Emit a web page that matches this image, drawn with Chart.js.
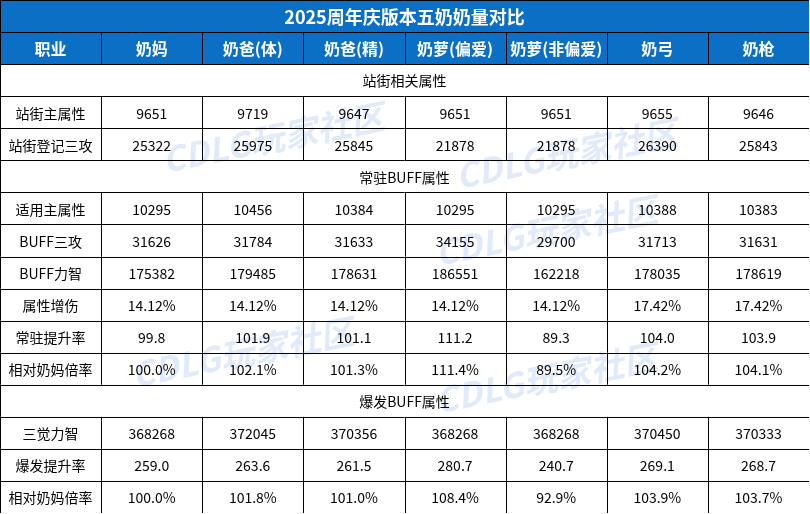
<!DOCTYPE html>
<html><head><meta charset="utf-8">
<script src="https://cdn.jsdelivr.net/npm/chart.js@4"></script>
<style>body{margin:0;background:#fff}canvas{display:block}</style>
</head><body><canvas id="c" width="809" height="513"></canvas>
<script>
const title = "2025周年庆版本五奶奶量对比";
const headers = ["职业","奶妈","奶爸(体)","奶爸(精)","奶萝(偏爱)","奶萝(非偏爱)","奶弓","奶枪"];
const section1 = "站街相关属性";
const rows1Labels = ["站街主属性","站街登记三攻"];
const rows1 = [
  ["9651","9719","9647","9651","9651","9655","9646"],
  ["25322","25975","25845","21878","21878","26390","25843"]];
const section2 = "常驻BUFF属性";
const rows2Labels = ["适用主属性","BUFF三攻","BUFF力智","属性增伤","常驻提升率","相对奶妈倍率"];
const rows2 = [
  ["10295","10456","10384","10295","10295","10388","10383"],
  ["31626","31784","31633","34155","29700","31713","31631"],
  ["175382","179485","178631","186551","162218","178035","178619"],
  ["14.12%","14.12%","14.12%","14.12%","14.12%","17.42%","17.42%"],
  ["99.8","101.9","101.1","111.2","89.3","104.0","103.9"],
  ["100.0%","102.1%","101.3%","111.4%","89.5%","104.2%","104.1%"]];
const section3 = "爆发BUFF属性";
const rows3Labels = ["三觉力智","爆发提升率","相对奶妈倍率"];
const rows3 = [
  ["368268","372045","370356","368268","368268","370450","370333"],
  ["259.0","263.6","261.5","280.7","240.7","269.1","268.7"],
  ["100.0%","101.8%","101.0%","108.4%","92.9%","103.9%","103.7%"]];

const rows = [{type:"title",text:title},{type:"header",cells:headers},{type:"section",text:section1}];
rows1Labels.forEach((l,i)=>rows.push({type:"data",cells:[l,...rows1[i]]}));
rows.push({type:"section",text:section2});
rows2Labels.forEach((l,i)=>rows.push({type:"data",cells:[l,...rows2[i]]}));
rows.push({type:"section",text:section3});
rows3Labels.forEach((l,i)=>rows.push({type:"data",cells:[l,...rows3[i]]}));
const nCols = headers.length, nRows = rows.length;
const BLUE = "#0B6FC6";
const FONT = '"Noto Sans CJK SC", sans-serif';

const tablePlugin = {
  id:"table",
  beforeDatasetsDraw(chart){
    const ctx = chart.ctx, xs = chart.scales.x, ys = chart.scales.y;
    const X = v=>xs.getPixelForValue(v), Y = v=>ys.getPixelForValue(v);
    ctx.save();
    rows.forEach((r,ri)=>{
      const y0=Y(ri), y1=Y(ri+1);
      if(r.type==="title"||r.type==="header"){
        ctx.fillStyle=BLUE; ctx.fillRect(X(0),y0,X(nCols)-X(0),y1-y0);
      }
    });
    ctx.save();
    ctx.fillStyle="rgba(120,160,230,0.22)";
    ctx.font='bold italic 34px '+FONT;
    ctx.textAlign="center";ctx.textBaseline="middle";
    [[X(2.7),Y(4.3)],[X(5.6),Y(4.8)],[X(2.4),Y(11)],[X(5.4),Y(11.8)],[X(5.4),Y(7.2)]].forEach(p=>{
      ctx.save();ctx.translate(p[0],p[1]);ctx.rotate(-0.2);ctx.fillText("CDLG玩家社区",0,0);ctx.restore();
    });
    ctx.restore();
    ctx.strokeStyle="#000";ctx.lineWidth=1;
    for(let ri=0;ri<=nRows;ri++){
      const y=Math.round(Y(ri))+0.5; ctx.beginPath();ctx.moveTo(X(0),y);ctx.lineTo(X(nCols),y);ctx.stroke();
    }
    rows.forEach((r,ri)=>{
      const y0=Y(ri), y1=Y(ri+1);
      const cols = (r.type==="header"||r.type==="data") ? [...Array(nCols+1).keys()] : [0,nCols];
      cols.forEach(c=>{const x=Math.round(X(c))+0.5;ctx.beginPath();ctx.moveTo(x,y0);ctx.lineTo(x,y1);ctx.stroke();});
    });
    ctx.textAlign="center";ctx.textBaseline="middle";
    rows.forEach((r,ri)=>{
      const yc=(Y(ri)+Y(ri+1))/2+1;
      if(r.type==="title"){ctx.fillStyle="#fff";ctx.font="bold 18px "+FONT;ctx.fillText(r.text,(X(0)+X(nCols))/2,yc);}
      else if(r.type==="section"){ctx.fillStyle="#000";ctx.font="14px "+FONT;ctx.fillText(r.text,(X(0)+X(nCols))/2,yc);}
      else {
        ctx.fillStyle=r.type==="header"?"#fff":"#000";
        ctx.font=(r.type==="header"?"bold 16px ":"14px ")+FONT;
        r.cells.forEach((t,c)=>ctx.fillText(t,(X(c)+X(c+1))/2,yc));
      }
    });
    ctx.restore();
  }
};

new Chart(document.getElementById("c"),{
  type:"scatter",
  data:{datasets:[{data:[]}]},
  options:{responsive:false,animation:false,
    layout:{padding:0},
    plugins:{legend:{display:false},tooltip:{enabled:false}},
    scales:{
      x:{type:"linear",min:0,max:nCols,display:false},
      y:{type:"linear",min:0,max:nRows,reverse:true,display:false}
    }},
  plugins:[tablePlugin]
});
</script></body></html>
